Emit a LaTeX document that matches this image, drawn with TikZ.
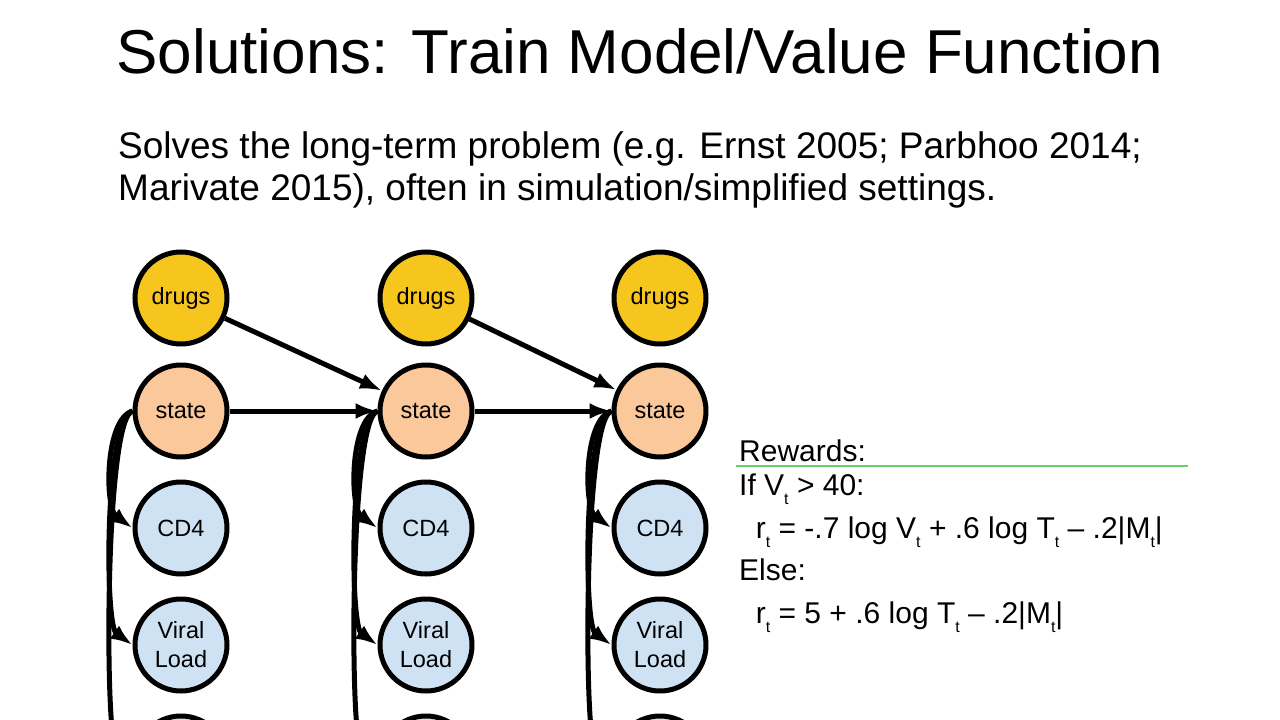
\documentclass[tikz,border=0pt]{standalone}
\usepackage{fontspec}
\setmainfont{Liberation Sans}
\usetikzlibrary{arrows.meta}
\definecolor{drugcol}{HTML}{F7C61E}
\definecolor{statecol}{HTML}{FBC89C}
\definecolor{obscol}{HTML}{CFE2F3}
\newcommand{\sbt}[1]{\raisebox{-9pt}{\fontsize{16}{16}\selectfont #1}}
\tikzset{
  var/.style={circle,draw=black,line width=5pt,minimum size=92pt,inner sep=0pt,align=center,font=\fontsize{23.5}{29}\selectfont},
  arr/.style={line width=5pt,-{Latex[length=22pt,width=16pt]}}
}
\begin{document}
\begin{tikzpicture}[x=1pt,y=-1pt]
\useasboundingbox (0,0) rectangle (1280,720);
\clip (0,0) rectangle (1280,720);
\node[anchor=base west,font=\fontsize{62}{62}\selectfont] (title) at (113,73) {Solutions: Train Model/Value Function};
\node[anchor=north west,align=left,inner sep=0pt,font=\fontsize{37}{42}\selectfont] (intro) at (118,131)
  {Solves the long-term problem (e.g. Ernst 2005; Parbhoo 2014;\\Marivate 2015), often in simulation/simplified settings.};
\foreach \c/\x in {1/181,2/426,3/660}{
  \node[var,fill=drugcol] (d\c) at (\x,298) {drugs};
  \node[var,fill=statecol] (s\c) at (\x,411) {state};
  \node[var,fill=obscol] (cd\c) at (\x,528) {CD4};
  \node[var,fill=obscol] (vl\c) at (\x,645) {Viral\\Load};
  \node[var,fill=obscol] (m\c) at (\x,762) {};
  \foreach \t in {cd,vl,m}
    \draw[arr] (s\c.west) .. controls ++(-28,8) and ++(-28,-20) .. (\t\c.west);
}
\foreach \a/\b in {1/2,2/3}{
  \draw[arr] (d\a) -- (s\b);
  \draw[arr] (s\a) -- (s\b);
}
\node[anchor=base west,inner sep=0pt,font=\fontsize{30}{30}\selectfont] (rw) at (739,461) {Rewards:};
\draw[green!70!black!60,line width=1.5pt] (736,466) -- (1188,466);
\node[anchor=north west,inner sep=0pt,align=left,font=\fontsize{30}{42.5}\selectfont] (rules) at (739,474)
  {If V\sbt{t} > 40:\\
   \ \ r\sbt{t} = -.7 log V\sbt{t} + .6 log T\sbt{t} – .2|M\sbt{t}|\\
   Else:\\
   \ \ r\sbt{t} = 5 + .6 log T\sbt{t} – .2|M\sbt{t}|};
\end{tikzpicture}
\end{document}
